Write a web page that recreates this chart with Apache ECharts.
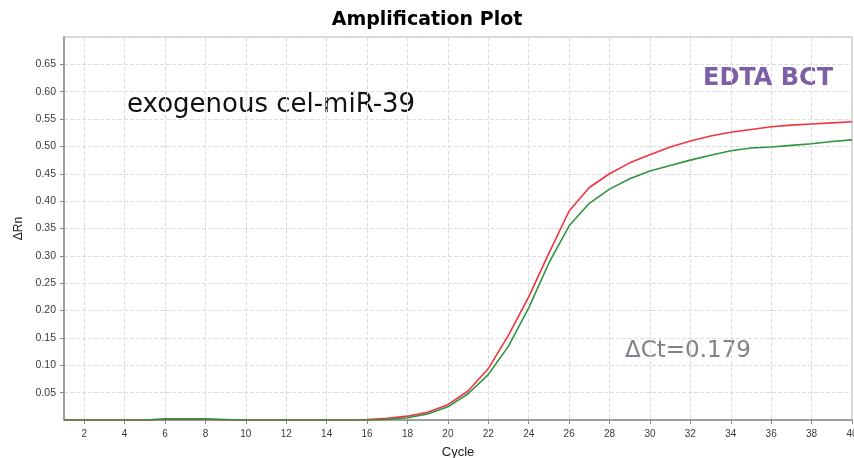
<!DOCTYPE html>
<html>
<head>
<meta charset="utf-8">
<script src="https://cdn.jsdelivr.net/npm/echarts@6/dist/echarts.min.js"></script>
<style>
  html, body { margin: 0; padding: 0; background: #ffffff; }
  #chart { width: 854px; height: 458px; }
</style>
</head>
<body>
<div id="chart"></div>
<script>
// PCR cycle numbers
const cycles = [1, 2, 3, 4, 5, 6, 7, 8, 9, 10, 11, 12, 13, 14, 15, 16, 17, 18, 19, 20,
                21, 22, 23, 24, 25, 26, 27, 28, 29, 30, 31, 32, 33, 34, 35, 36, 37, 38, 39, 40];

// Normalized reporter signal (ΔRn) per cycle, two replicates
const redRn = [0.000, 0.000, 0.000, 0.000, 0.000, 0.001, 0.001, 0.001, 0.000, 0.000,
               0.000, 0.000, 0.000, 0.000, 0.000, 0.001, 0.003, 0.007, 0.014, 0.028,
               0.053, 0.094, 0.155, 0.225, 0.305, 0.382, 0.425, 0.450, 0.470, 0.485,
               0.499, 0.510, 0.519, 0.526, 0.531, 0.536, 0.539, 0.541, 0.543, 0.545];
const greenRn = [0.000, 0.000, 0.000, 0.000, 0.000, 0.002, 0.002, 0.002, 0.001, 0.000,
                 0.000, 0.000, 0.000, 0.000, 0.000, 0.000, 0.001, 0.004, 0.011, 0.024,
                 0.048, 0.083, 0.135, 0.205, 0.287, 0.355, 0.396, 0.422, 0.441, 0.455,
                 0.465, 0.475, 0.484, 0.492, 0.497, 0.499, 0.502, 0.505, 0.509, 0.512];

// Y axis range and step
const yMin = 0;
const yMax = 0.70;
const yStep = 0.05;

// Annotation texts
const targetLabel = 'exogenous cel-miR-39';
const tubeLabel = 'EDTA BCT';
const deltaCtLabel = 'ΔCt=0.179';

const chart = echarts.init(document.getElementById('chart'), null, { renderer: 'canvas' });

const evenCycle = (idx, val) => Number(val) % 2 === 0;

chart.setOption({
  animation: false,
  backgroundColor: '#ffffff',
  title: {
    text: 'Amplification Plot',
    left: 'center',
    top: 6,
    textStyle: { fontFamily: 'DejaVu Sans', fontWeight: 'bold', fontSize: 19, color: '#000' }
  },
  grid: {
    left: 64, right: 2, top: 37, bottom: 38,
    outerBoundsMode: 'none',
    containLabel: false,
    show: true, borderColor: '#b0b0b0', borderWidth: 1, backgroundColor: '#ffffff'
  },
  xAxis: {
    type: 'category',
    data: cycles,
    boundaryGap: false,
    name: 'Cycle',
    nameLocation: 'middle',
    nameGap: 26,
    nameTextStyle: { fontFamily: 'Liberation Sans', fontSize: 13, color: '#222' },
    axisLine: { lineStyle: { color: '#8a8a8a', width: 1.5 } },
    axisTick: { show: true, interval: evenCycle, length: 4, lineStyle: { color: '#8a8a8a' } },
    axisLabel: {
      interval: evenCycle, hideOverlap: false,
      fontFamily: 'Liberation Sans', fontSize: 10, color: '#3a3a3a', margin: 9
    },
    splitLine: { show: true, interval: evenCycle, lineStyle: { color: '#dcdcdc', type: 'dashed', width: 1 } }
  },
  yAxis: {
    type: 'value',
    min: yMin,
    max: yMax,
    interval: yStep,
    name: 'ΔRn',
    nameLocation: 'middle',
    nameGap: 34,
    nameTextStyle: { fontFamily: 'Liberation Sans', fontSize: 12, color: '#222' },
    axisLine: { show: true, lineStyle: { color: '#8a8a8a', width: 1.5 } },
    axisTick: { show: true, length: 4, lineStyle: { color: '#8a8a8a' } },
    axisLabel: {
      showMinLabel: false,
      showMaxLabel: false,
      fontFamily: 'Liberation Sans', fontSize: 10.5, color: '#3a3a3a', margin: 8,
      formatter: v => v.toFixed(2)
    },
    splitLine: { show: true, lineStyle: { color: '#dcdcdc', type: 'dashed', width: 1 } }
  },
  series: [
    {
      name: 'replicate A',
      type: 'line',
      data: redRn,
      showSymbol: false,
      smooth: false,
      lineStyle: { color: '#f2333f', width: 1.6 },
      z: 3
    },
    {
      name: 'replicate B',
      type: 'line',
      data: greenRn,
      showSymbol: false,
      smooth: false,
      lineStyle: { color: '#2f9440', width: 1.6 },
      z: 4
    }
  ],
  graphic: [
    {
      type: 'text',
      left: 127, top: 92,
      style: { text: targetLabel, fontFamily: 'DejaVu Sans', fontSize: 26, fill: '#111' }
    },
    {
      type: 'text',
      left: 703, top: 67,
      style: { text: tubeLabel, fontFamily: 'DejaVu Sans', fontWeight: 'bold', fontSize: 24, fill: '#7d5ea8' }
    },
    {
      type: 'text',
      left: 625, top: 340,
      style: { text: deltaCtLabel, fontFamily: 'DejaVu Sans', fontSize: 23, fill: '#7e8389' }
    }
  ]
});
</script>
</body>
</html>
